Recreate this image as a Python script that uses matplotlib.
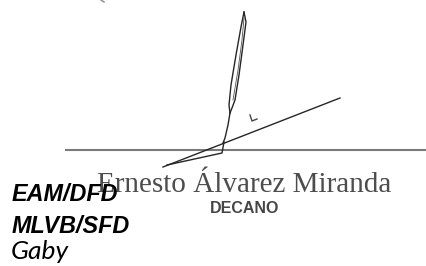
import matplotlib
matplotlib.use("Agg")
import matplotlib.pyplot as plt

W, H = 426, 266

# Text content
name_text = "Ernesto Álvarez Miranda"
title_text = "DECANO"
initials = ["EAM/DFD", "MLVB/SFD"]
typist = "Gaby"

# Signature strokes (pixel coordinates)
loop_left_x = [244, 241, 236, 231, 229, 230]
loop_left_y = [12, 27, 55, 85, 105, 113]
loop_right_x = [244, 246, 243, 239, 235, 232, 230]
loop_right_y = [12, 22, 45, 75, 100, 108, 113]
loop_mid_x = [244, 242, 238, 233]
loop_mid_y = [18, 40, 70, 100]
tail_x = [230, 228, 225, 223]
tail_y = [113, 125, 138, 143]
long_x = [340, 163]
long_y = [98, 167]
z_x = [167, 222, 224]
z_y = [165, 153, 142]
mark_x = [250, 252, 257]
mark_y = [115, 121, 119]
rule_x = [65, 426]
rule_y = [150, 150]
dot_x = [101, 104]
dot_y = [0, 2]

fig = plt.figure(figsize=(W / 100, H / 100), dpi=100)
ax = fig.add_axes([0, 0, 1, 1])
ax.set_xlim(0, W)
ax.set_ylim(H, 0)
ax.axis("off")

ax.plot(rule_x, rule_y, color="#7a7a7a", lw=1.5, solid_capstyle="butt")
sig = dict(color="#262626", lw=1.0)
ax.plot(loop_left_x, loop_left_y, **sig)
ax.plot(loop_right_x, loop_right_y, **sig)
ax.plot(loop_mid_x, loop_mid_y, color="#555555", lw=0.6)
ax.plot(tail_x, tail_y, **sig)
ax.plot(long_x, long_y, **sig)
ax.plot(z_x, z_y, **sig)
ax.plot(mark_x, mark_y, color="#444444", lw=1.0)
ax.plot(dot_x, dot_y, color="#999999", lw=1.2)

ax.text(97, 192, name_text, family="Liberation Serif", fontsize=21.0,
        color="#4d4d4d", ha="left", va="baseline")
ax.text(245, 213, title_text, family="Liberation Sans", fontweight="bold",
        fontsize=11.5, color="#454545", ha="center", va="baseline")
ax.text(12, 201, initials[0], family="Liberation Sans", fontweight="bold",
        fontstyle="italic", fontsize=16.8, color="black", ha="left", va="baseline")
ax.text(12, 233, initials[1], family="Liberation Sans", fontweight="bold",
        fontstyle="italic", fontsize=16.8, color="black", ha="left", va="baseline")
ax.text(11, 259, typist, family="Lato", fontstyle="italic",
        fontsize=19, color="black", ha="left", va="baseline")

fig.savefig("out.png", dpi=100)
